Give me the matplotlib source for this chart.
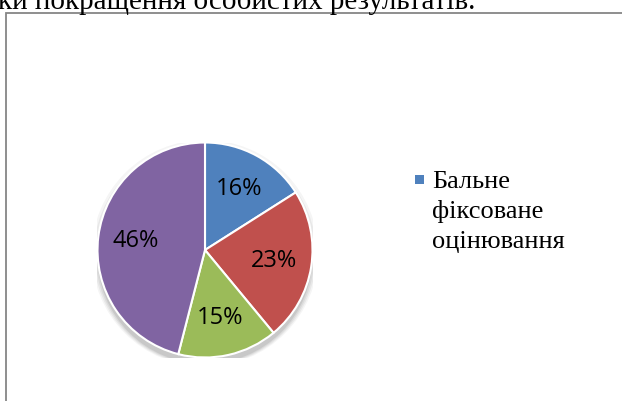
import matplotlib.pyplot as plt
import matplotlib.patches as mpatches

# slices
values = [16, 23, 15, 46]
colors = ["#4F81BD", "#C0504D", "#9BBB59", "#8064A2"]
legend_lines = ["Бальне", "фіксоване", "оцінювання"]
top_text = "ки покращення особистих результатів."

W, H = 622, 401
fig = plt.figure(figsize=(W / 100, H / 100), dpi=100)

# frame of the chart area
frame = mpatches.Rectangle((6 / W, -0.1), 1.2, (H - 13) / H + 0.1,
                           transform=fig.transFigure, fill=False,
                           edgecolor="#868686", linewidth=1.3)
fig.patches.append(frame)

# cut-off sentence above the chart
fig.text(-2 / W, (H - 9) / H, top_text, fontsize=21,
         family="Liberation Serif", va="baseline", ha="left")

cx, cy, r = 205, 250, 107.5
ax = fig.add_axes([(cx - r) / W, (H - cy - r) / H, 2 * r / W, 2 * r / H])

# soft shadow under the pie
for i, a in enumerate([0.04, 0.05, 0.06, 0.08]):
    ax.add_patch(mpatches.Circle((0.0, -0.03 - 0.01 * i), 1.0 + 0.018 * (3 - i),
                                 color="black", alpha=a, lw=0, zorder=0))

wedges, texts, autotexts = ax.pie(values, colors=colors, startangle=90,
                                  counterclock=False,
                                  autopct="%1.0f%%", pctdistance=0.65,
                                  wedgeprops=dict(edgecolor="white", linewidth=1.5),
                                  textprops=dict(fontsize=17, family="Open Sans",
                                                 color="black"))
for w in wedges:
    w.set_zorder(2)
for t in autotexts:
    t.set_zorder(3)
ax.set_xlim(-1, 1)
ax.set_ylim(-1, 1)
ax.set_aspect("equal")
ax.axis("off")

# legend (only first entry visible)
fig.patches.append(mpatches.Rectangle((415 / W, (H - 184) / H), 9 / W, 9 / H,
                                      transform=fig.transFigure,
                                      facecolor=colors[0], edgecolor="none"))
for i, line in enumerate(legend_lines):
    fig.text(432 / W, (H - 188 - 30 * i) / H, line, fontsize=19,
             family="Liberation Serif", va="baseline", ha="left")

fig.savefig("out.png", dpi=100)
